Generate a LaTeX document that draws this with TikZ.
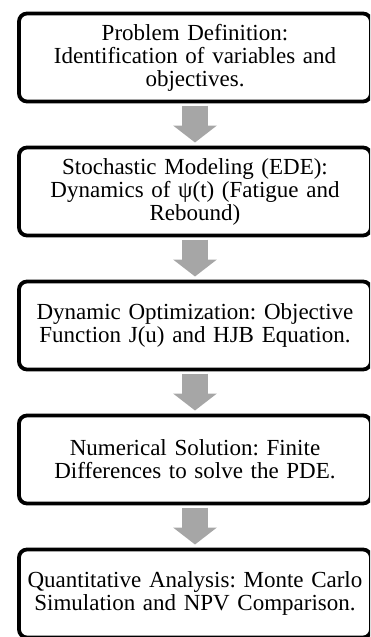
\documentclass[tikz,border=0pt]{standalone}
\usepackage{fontspec}
\setmainfont{Liberation Serif}
\usepackage{tikz}
\usetikzlibrary{arrows.meta}
\usetikzlibrary{positioning}
\definecolor{arrowgray}{RGB}{166,166,166}

\begin{document}
\frenchspacing
\begin{tikzpicture}
      [
      x=1pt, y=1pt,
      node distance=46pt,
      stepbox/.style={draw=black,line width=3.8pt,rounded corners=8pt,
        minimum width=352pt,minimum height=88pt,outer sep=0pt,
        text width=346pt,inner xsep=3pt,align=center,
        font=\fontsize{23}{23}\selectfont},
      flow/.style={draw=arrowgray,line width=26pt,
        -{Triangle[width=43pt,length=17pt]}},
      ]
      % page size of the flow chart
      \useasboundingbox (0,0) rectangle (370,-637);
      \clip (0,0) rectangle (370,-637);
      \node[stepbox] (problem) at (195,-57.5) {Problem Definition:\\Identification of variables and\\objectives.};
      \node[stepbox,below=of problem] (model) {Stochastic Modeling (EDE):\\Dynamics of ψ(t) (Fatigue and\\Rebound)};
      \node[stepbox,below=of model] (optim) {Dynamic Optimization: Objective\\Function J(u) and HJB Equation.};
      \node[stepbox,below=of optim] (numeric) {Numerical Solution: Finite\\Differences to solve the PDE.};
      \node[stepbox,below=of numeric] (analysis) {Quantitative Analysis: Monte Carlo\\Simulation and NPV Comparison.};
      % block arrows between the steps
      \def\gaptop{4}
      \def\gapbot{5}
      \foreach \from/\to in {problem/model,model/optim,optim/numeric,numeric/analysis}
        \draw[flow] ([yshift=-\gaptop]\from.south) -- ([yshift=\gapbot]\to.north);
\end{tikzpicture}
\end{document}
